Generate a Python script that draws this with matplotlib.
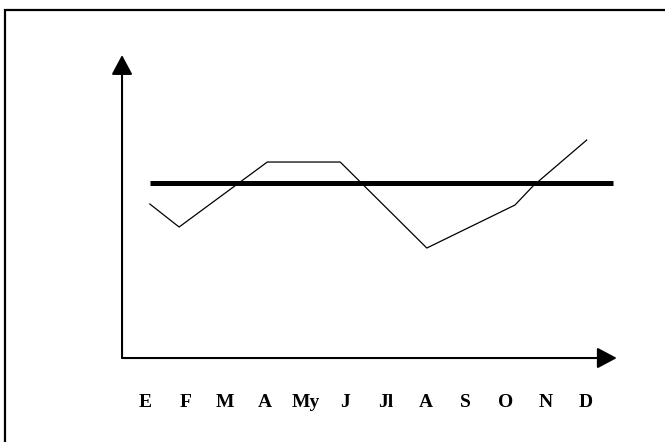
import matplotlib
matplotlib.use("Agg")
import matplotlib.pyplot as plt
from matplotlib.patches import Rectangle

# Meses (etiquetas del eje x)
meses = ['E', 'F', 'M', 'A', 'My', 'J', 'Jl', 'A', 'S', 'O', 'N', 'D']

# Serie fina (posición en meses, valor)
serie_x = [0.12, 0.85, 3.05, 4.87, 7.03, 9.23, 9.68, 11.02]
serie_y = [15.4, 13.1, 19.6, 19.6, 11.0, 15.3, 17.2, 21.8]

# Línea gruesa (nivel medio)
media_x = [0.12, 11.68]
media_y = [17.5, 17.5]

fig = plt.figure(figsize=(6.65, 4.42), dpi=100)
ax = fig.add_axes([0.1835, 0.190, 0.744, 0.6855])

# Marco exterior
fig.add_artist(Rectangle((0.0075, -0.1), 1.2, 1.077, transform=fig.transFigure,
                         fill=False, lw=1.6, edgecolor='black'))

ax.plot(serie_x, serie_y, color='black', lw=0.9)
ax.plot(media_x, media_y, color='black', lw=3.6, solid_capstyle='butt')

ax.set_xlim(-0.574, 11.77)
ax.set_ylim(0, 30.3)

for s in ax.spines.values():
    s.set_visible(False)

# Ejes con flecha
flecha = dict(arrowstyle='-|>,head_length=0.6,head_width=0.32', mutation_scale=20,
              lw=1.5, color='black', shrinkA=0, shrinkB=0)
ax.annotate('', xy=(1, 0), xytext=(0, 0), xycoords='axes fraction', arrowprops=flecha)
ax.annotate('', xy=(0, 1), xytext=(0, 0), xycoords='axes fraction', arrowprops=flecha)

ax.set_xticks(range(len(meses)))
ax.set_xticklabels(meses, fontfamily='Liberation Serif', fontweight='bold', fontsize=14)
ax.tick_params(axis='x', length=0, pad=26)
ax.set_yticks([])

fig.savefig('out.png', dpi=100)
